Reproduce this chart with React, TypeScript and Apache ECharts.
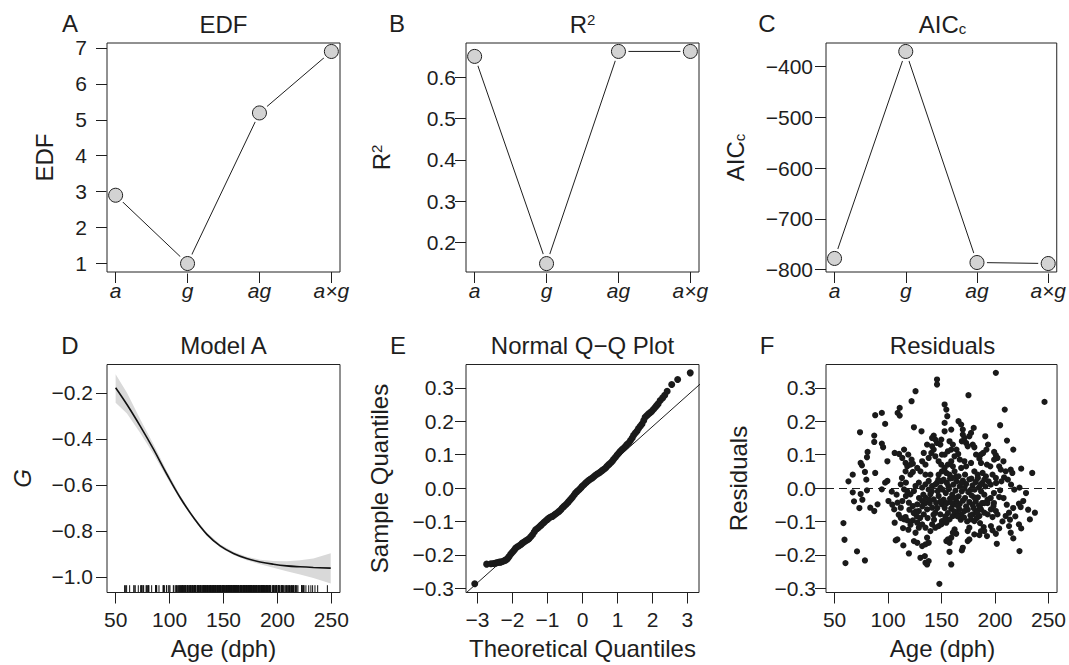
import React, { useEffect, useRef } from 'react';
import * as echarts from 'echarts';

// ---------- data ----------
const modelCats = ['a', 'g', 'ag', 'a×g'];
const catIdx = [0, 1, 2, 3];
const edfValues = [2.9, 1.0, 5.19, 6.9];
const r2Values = [0.65, 0.149, 0.662, 0.662];
const aiccValues = [-778, -370.5, -786, -788];

const edfTicks = [1, 2, 3, 4, 5, 6, 7];
const r2Ticks = [0.2, 0.3, 0.4, 0.5, 0.6];
const aiccTicks = [-800, -700, -600, -500, -400];
const gTicks = [-1.0, -0.8, -0.6, -0.4, -0.2];
const ageTicks = [50, 100, 150, 200, 250];
const theoTicks = [-3, -2, -1, 0, 1, 2, 3];
const residTicks = [-0.3, -0.2, -0.1, 0, 0.1, 0.2, 0.3];

// Model A smooth fit
const fitAges = [50, 60.5, 72.8, 85.2, 97.5, 109.9, 122.2, 134.6, 146.9, 159.3, 171.6, 184, 196.3, 208.6, 221, 233.3, 249.4];
const fitG = [-0.178, -0.251, -0.345, -0.446, -0.554, -0.656, -0.742, -0.815, -0.865, -0.898, -0.92, -0.935, -0.945, -0.952, -0.956, -0.959, -0.962];
const bandUpper = [-0.12, -0.2, -0.315, -0.425, -0.54, -0.646, -0.736, -0.808, -0.858, -0.891, -0.912, -0.925, -0.931, -0.932, -0.928, -0.92, -0.897];
const bandLower = [-0.243, -0.29, -0.375, -0.467, -0.568, -0.666, -0.75, -0.822, -0.872, -0.905, -0.928, -0.945, -0.96, -0.975, -0.99, -1.005, -1.029];

// Normal Q-Q plot
const qqTheo = [-3.08, -2.74, -2.62, -2.55, -2.48, -2.43, -2.38, -2.34, -2.29, -2.24, -2.2, -2.17, -2.13, -2.1, -2.05, -2.0, -1.95, -1.91, -1.86, -1.81, -1.76, -1.72, -1.67, -1.62, -1.57, -1.53, -1.48, -1.43, -1.38, -1.34, -1.29, -1.24, -1.19, -1.15, -1.1, -1.05, -1.0, -0.96, -0.91, -0.86, -0.81, -0.77, -0.72, -0.67, -0.62, -0.58, -0.53, -0.48, -0.43, -0.39, -0.34, -0.29, -0.24, -0.2, -0.15, -0.1, -0.05, -0.01, 0.04, 0.09, 0.13, 0.18, 0.23, 0.28, 0.32, 0.37, 0.42, 0.47, 0.51, 0.56, 0.61, 0.66, 0.7, 0.75, 0.8, 0.85, 0.89, 0.94, 0.99, 1.04, 1.08, 1.13, 1.18, 1.23, 1.27, 1.32, 1.37, 1.42, 1.46, 1.51, 1.56, 1.6, 1.65, 1.7, 1.75, 1.79, 1.84, 1.89, 1.94, 1.98, 2.03, 2.08, 2.12, 2.16, 2.22, 2.29, 2.35, 2.42, 2.55, 2.72, 3.08];
const qqSample = [-0.287, -0.228, -0.227, -0.226, -0.225, -0.223, -0.222, -0.222, -0.22, -0.218, -0.216, -0.214, -0.21, -0.205, -0.198, -0.192, -0.186, -0.18, -0.176, -0.173, -0.169, -0.165, -0.162, -0.158, -0.155, -0.152, -0.146, -0.14, -0.132, -0.125, -0.121, -0.117, -0.112, -0.108, -0.103, -0.098, -0.094, -0.09, -0.087, -0.085, -0.081, -0.078, -0.074, -0.07, -0.065, -0.06, -0.055, -0.05, -0.045, -0.04, -0.034, -0.028, -0.021, -0.015, -0.01, -0.005, 0.0, 0.005, 0.01, 0.015, 0.019, 0.023, 0.027, 0.03, 0.034, 0.038, 0.042, 0.045, 0.048, 0.052, 0.056, 0.06, 0.065, 0.07, 0.075, 0.08, 0.086, 0.092, 0.099, 0.105, 0.11, 0.115, 0.12, 0.125, 0.13, 0.135, 0.142, 0.15, 0.158, 0.165, 0.171, 0.178, 0.185, 0.192, 0.202, 0.212, 0.217, 0.222, 0.226, 0.23, 0.236, 0.242, 0.247, 0.252, 0.262, 0.27, 0.278, 0.29, 0.31, 0.325, 0.345];
const qqLineX = [-3.4, 3.4];
const qqLineY = [-0.321, 0.315];

// Residuals vs age [age, residual]
const residualPoints: [number, number][] = [
  [58.3, -0.105], [59.3, -0.155], [60.2, -0.225], [63, 0.02], [67, 0.04], [67, -0.013], [68.2, -0.04], [71, -0.19], [73.8, 0.167], [74.4, 0.075], [75.6, 0.068], [74.4, -0.018], [73.2, -0.06], [76, -0.035], [78.4, 0.048], [78.4, -0.217], [79.7, 0.025], [80.3, -0.007], [80.9, 0.108], [80.3, 0.092], [83.4, -0.059], [87.1, 0.157], [87.1, 0.138], [88, 0.045], [87.1, -0.069], [88, 0.218], [90.2, -0.049], [94.2, 0.225], [94.2, 0.133], [95.4, 0.122], [94.2, -0.004], [97.3, 0.016], [97.3, 0.192], [99.4, 0.08], [99.4, 0.021], [100.4, -0.039],
  [103.5, -0.011], [106.2, 0.105], [110.3, 0.102], [106.2, -0.104], [105.8, -0.064], [107.2, -0.157], [108.7, -0.154], [108.9, -0.044], [110.9, 0.24], [109, 0.225], [110.9, 0.217], [111.9, -0.059], [111.9, 0.011], [113.3, 0.09], [113.4, -0.039], [114.3, -0.172], [115, -0.004], [115, -0.094], [116.4, 0.075], [116.4, 0.05], [116.7, 0.016], [116.7, -0.024], [116.4, -0.087], [118, 0.065], [118, -0.097], [119.5, -0.196], [121, 0.04], [122, 0.26], [122, 0.085], [123.2, 0.073], [123.2, 0.048], [123.2, -0.097], [124.2, 0.182], [124.2, -0.159], [125.7, 0.29], [125.7, -0.134], [127.3, -0.104], [127.3, -0.164], [128.8, -0.119], [115, 0.115], [118.9, 0.1], [121, 0.07], [127.3, 0.06], [121, -0.019], [124.2, -0.009], [125.7, 0.006], [128.8, 0.016], [119.5, -0.044], [123.2, -0.054], [127.3, -0.049], [128.8, -0.069], [131.3, 0.17],
  [130.3, 0.05], [131.9, 0.001], [135, 0.011], [138, 0.021], [141.2, 0.006], [145.8, 0.016], [148.9, 0.001], [131.9, -0.039], [135, -0.029], [139.6, -0.019], [142.7, -0.034], [147.3, -0.024], [150.4, -0.049], [133.4, -0.079], [136.5, -0.064], [141.2, -0.059], [144.2, -0.074], [148.9, -0.079], [150.4, -0.099], [131.9, -0.109], [135, -0.119], [139.6, -0.129], [141.2, -0.109], [144.2, -0.119], [147.3, -0.114], [136.5, -0.149], [138, -0.164], [131.9, -0.174], [135, -0.169], [130.3, -0.209], [134.4, -0.204], [135, -0.224], [136.5, -0.229], [138, -0.219], [148, -0.287], [135, 0.07], [138, 0.09], [140.5, 0.105], [144.2, 0.095], [147.3, 0.08], [150.4, 0.1], [148.9, 0.13], [145.8, 0.135], [142.7, 0.115], [135, 0.04], [139.6, 0.04], [147.3, 0.04], [150.4, 0.05], [131.9, 0.08], [133.4, 0.105], [136.5, 0.13], [141.2, 0.125], [144.2, 0.145], [142.7, 0.157], [141.2, 0.15], [145.8, 0.325], [145.8, 0.31],
  [200.8, 0.345], [175.2, 0.278], [246.3, 0.258], [152.9, 0.25], [154.5, 0.235], [155.4, 0.215], [209.1, 0.235], [152.9, 0.195], [152.9, 0.17], [165.9, 0.2], [168.4, 0.19], [169.9, 0.175], [159.1, 0.175], [180.1, 0.18], [204.8, 0.188], [169.9, 0.16], [171.4, 0.15], [169, 0.14], [177.6, 0.165], [176, 0.155], [190.9, 0.155], [211.2, 0.142], [149.8, 0.145], [157.5, 0.14], [160.6, 0.13], [159.1, 0.115], [173, 0.135], [174.5, 0.125], [179.2, 0.13], [180.7, 0.122], [193.5, 0.13], [192, 0.115], [188.9, 0.105], [186.7, 0.1], [199.2, 0.108], [200.8, 0.098], [202.3, 0.09], [199.2, 0.085], [217.1, 0.115], [164, 0.115], [165.6, 0.102], [162.2, 0.095], [156, 0.11], [152.9, 0.1], [167.1, 0.085], [171.4, 0.08], [177.6, 0.075], [173, 0.065], [168.4, 0.06], [182.3, 0.1], [185.4, 0.088], [186.9, 0.075], [192.5, 0.07], [195.6, 0.065], [207.9, 0.08], [203.9, 0.065], [205.4, 0.055], [210, 0.05], [214.7, 0.055], [216.2, 0.045], [224.5, 0.058], [234.8, 0.045], [149.8, 0.07], [152.9, 0.06], [156, 0.07], [159.1, 0.08], [160.6, 0.065], [154.5, 0.045], [157.5, 0.04], [162.2, 0.05], [163.7, 0.035], [180.7, 0.05], [183.8, 0.04], [188.4, 0.045], [191.5, 0.035], [197.7, 0.04], [200.8, 0.03], [208.5, 0.032],
  [222.9, 0.001], [204.8, -0.007], [203.9, -0.027], [226.4, -0.039], [222.4, -0.047], [224, -0.057], [237.3, -0.074], [232.6, -0.094], [213.1, -0.074], [210, -0.084], [222.4, -0.109], [224.5, -0.121], [213.1, -0.114], [203.9, -0.121], [196.2, -0.114], [197.7, -0.127], [189.4, -0.117], [190, -0.129], [200.8, -0.137], [214.7, -0.134], [217.1, -0.151], [201.7, -0.167], [222.9, -0.189], [192.5, -0.144], [185.4, -0.141], [186.9, -0.129], [180.7, -0.139], [176, -0.119], [174.5, -0.129], [176, -0.154], [174.5, -0.159], [162.2, -0.124], [163.7, -0.137], [160.6, -0.134], [156, -0.154], [154.5, -0.159], [157.5, -0.164], [159.1, -0.149], [169.9, -0.179], [169, -0.187], [157.5, -0.191], [159.1, -0.229],
  [196.2, -0.064], [198.6, -0.054], [200.8, -0.069], [202.3, -0.079], [197.7, -0.087], [193.1, -0.079], [186.9, -0.064], [190, -0.074], [185.4, -0.084], [182.3, -0.069], [179.2, -0.079], [177.6, -0.094], [180.7, -0.099], [168.4, -0.079], [171.4, -0.069], [166.8, -0.064], [163.7, -0.074], [160.6, -0.084], [157.5, -0.094], [154.5, -0.104], [152.9, -0.097], [149.8, -0.109],
  [152, 0.025], [155, 0.015], [158, 0.028], [161, 0.01], [164, 0.02], [167, 0.005], [170, 0.022], [173, 0.012], [176, 0.026], [179, 0.008], [182, 0.018], [185, 0.002], [188, 0.015], [191, 0.005], [194, 0.02],
  [151, -0.005], [154, -0.015], [157, -0.003], [160, -0.02], [163, -0.008], [166, -0.025], [169, -0.01], [172, -0.03], [175, -0.012], [178, -0.022], [181, -0.005], [184, -0.028], [187, -0.01], [190, -0.02], [193, -0.035],
  [152, -0.035], [155, -0.045], [158, -0.032], [161, -0.05], [164, -0.04], [167, -0.048], [170, -0.038], [173, -0.055], [176, -0.042], [179, -0.05], [182, -0.04], [185, -0.052], [188, -0.045],
  [153, -0.06], [156, -0.075], [159, -0.062], [162, -0.07], [165, -0.085], [168, -0.095], [171, -0.088], [174, -0.1], [177, -0.082], [180, -0.06], [183, -0.09], [186, -0.105],
  [160, 0.03], [166, 0.035], [172, 0.04], [178, 0.028], [184, 0.03], [190, 0.025],
  [150, 0.02], [147, 0.025], [144, 0.01], [141, -0.01], [138, -0.005], [135, -0.045], [132, -0.055], [129, -0.03], [126, -0.07], [130, -0.09], [137, -0.09], [143, -0.095], [146, -0.06], [149, -0.04], [145, -0.045], [139, -0.045], [133, -0.02], [127, -0.085], [124, -0.075], [120, -0.065], [118, -0.01], [113, 0.03], [108, -0.02], [104, -0.05], [110, -0.08], [114, -0.12], [119, -0.125], [121, -0.11], [112, -0.09],
  [196, 0.01], [199, -0.015], [193, -0.045], [196, -0.03], [199, -0.045], [186, -0.06], [190, -0.045], [201, 0.015], [206, 0.02], [212, 0.025], [215, 0.01], [218, -0.005], [208, -0.03], [211, -0.05], [217, -0.06], [219, -0.085], [207, -0.1], [214, -0.095], [229, -0.015], [231, -0.065],
  [156.5, 0.005], [162.5, -0.03], [168.5, 0.015], [174.5, -0.065], [180.5, -0.028], [186.5, 0.01], [165.5, -0.055], [171.5, 0.0], [177.5, -0.005], [183.5, -0.075], [153.5, -0.085], [159.5, -0.045], [146.5, -0.01], [142.5, -0.08], [138.5, -0.035],
];

// ---------- style helpers ----------
const FONT = "'Liberation Sans', Arial, Helvetica, sans-serif";
const INK = '#1e1e1e';
const TICK_FS = 21;
const TITLE_FS = 24;

const minus = (s: string) => s.replace('-', '\u2212');
const fmt1 = (v: number) => minus(v.toFixed(1));
const fmt0 = (v: number) => minus(String(Math.round(v)));
const catFmt = (v: number) => modelCats[Math.round(v)] ?? '';

const boxes = [
  { left: 107, top: 43, width: 233, height: 229 },
  { left: 466, top: 43, width: 233, height: 229 },
  { left: 826, top: 43, width: 233, height: 229 },
  { left: 107, top: 364.5, width: 233, height: 228 },
  { left: 466, top: 364.5, width: 233, height: 228 },
  { left: 826, top: 364.5, width: 233, height: 228 },
];

function axis(gi: number, min: number, max: number, ticks: number[], fmt: (v: number) => string, margin: number, italic = false) {
  return {
    type: 'value',
    gridIndex: gi,
    min,
    max,
    axisLine: { show: false, onZero: false },
    splitLine: { show: false },
    axisTick: { show: true, inside: false, length: 11, customValues: ticks, lineStyle: { color: INK, width: 1 } },
    axisLabel: {
      customValues: ticks,
      formatter: fmt,
      margin,
      color: INK,
      fontSize: TICK_FS,
      fontFamily: FONT,
      fontStyle: italic ? 'italic' : 'normal',
      showMinLabel: true,
      showMaxLabel: true,
    },
  };
}

function modelSeries(gi: number, values: number[]) {
  const data = catIdx.map((i) => [i, values[i]]);
  return [
    { type: 'line', xAxisIndex: gi, yAxisIndex: gi, data, showSymbol: false, symbol: 'none', lineStyle: { color: INK, width: 1 }, z: 2 },
    { type: 'scatter', xAxisIndex: gi, yAxisIndex: gi, data, symbolSize: 20, itemStyle: { color: '#ffffff', opacity: 1 }, z: 3, silent: true },
    { type: 'scatter', xAxisIndex: gi, yAxisIndex: gi, data, symbolSize: 14, itemStyle: { color: '#d3d3d3', borderColor: INK, borderWidth: 1, opacity: 1 }, z: 4 },
  ];
}

const G_MIN = -1.0677;
const RUG_TOP = -1.036;

function text(x: number, y: number, t: string, fs: number, extra: any = {}) {
  return {
    type: 'text',
    x,
    y,
    rotation: extra.rotation || 0,
    silent: true,
    style: {
      text: t,
      fontSize: fs,
      fontFamily: FONT,
      fontStyle: extra.italic ? 'italic' : 'normal',
      fill: INK,
      align: 'center',
      verticalAlign: 'middle',
      rich: extra.rich,
    },
  };
}

const supRich = {
  sup: { fontSize: 15, fontFamily: FONT, fill: INK, verticalAlign: 'top', padding: [0, 0, 10, 0] },
  sub: { fontSize: 15, fontFamily: FONT, fill: INK, verticalAlign: 'bottom', padding: [8, 0, 0, 0] },
};

const option: any = {
  animation: false,
  backgroundColor: '#ffffff',
  grid: boxes.map((b) => ({ ...b, show: true, borderColor: '#222', borderWidth: 1, backgroundColor: 'transparent', z: 6 })),
  xAxis: [
    axis(0, -0.12, 3.12, catIdx, catFmt, 8, true),
    axis(1, -0.12, 3.12, catIdx, catFmt, 8, true),
    axis(2, -0.12, 3.12, catIdx, catFmt, 8, true),
    axis(3, 42, 258, ageTicks, fmt0, 16),
    axis(4, -3.33, 3.33, theoTicks, fmt0, 16),
    axis(5, 42, 258, ageTicks, fmt0, 16),
  ],
  yAxis: [
    axis(0, 0.764, 7.136, edfTicks, fmt0, 20),
    axis(1, 0.1287, 0.6824, r2Ticks, fmt1, 10),
    axis(2, -804.7, -353.8, aiccTicks, fmt0, 13),
    axis(3, G_MIN, -0.0772, gTicks, fmt1, 14),
    axis(4, -0.313, 0.37, residTicks, fmt1, 12),
    axis(5, -0.313, 0.37, residTicks, fmt1, 10),
  ],
  series: [
    ...modelSeries(0, edfValues),
    ...modelSeries(1, r2Values),
    ...modelSeries(2, aiccValues),
    {
      type: 'custom',
      xAxisIndex: 3,
      yAxisIndex: 3,
      data: [[fitAges[0], bandUpper[0]]],
      z: 1,
      silent: true,
      renderItem: (_p: any, api: any) => {
        const up = fitAges.map((a, i) => api.coord([a, bandUpper[i]]));
        const lo = fitAges.map((a, i) => api.coord([a, bandLower[i]])).reverse();
        return { type: 'polygon', shape: { points: up.concat(lo) }, style: { fill: '#d9d9d9', stroke: 'none' } };
      },
    },
    {
      type: 'line',
      xAxisIndex: 3,
      yAxisIndex: 3,
      data: fitAges.map((a, i) => [a, fitG[i]]),
      smooth: 0.4,
      showSymbol: false,
      symbol: 'none',
      lineStyle: { color: '#111', width: 1.6 },
      z: 3,
    },
    {
      type: 'custom',
      xAxisIndex: 3,
      yAxisIndex: 3,
      data: residualPoints.map((p) => [p[0], G_MIN]),
      z: 3,
      silent: true,
      renderItem: (_p: any, api: any) => {
        const a = api.value(0);
        const p0 = api.coord([a, G_MIN]);
        const p1 = api.coord([a, RUG_TOP]);
        return { type: 'line', shape: { x1: p0[0], y1: p0[1], x2: p1[0], y2: p1[1] }, style: { stroke: '#111', lineWidth: 1 } };
      },
    },
    {
      type: 'line',
      xAxisIndex: 4,
      yAxisIndex: 4,
      data: qqLineX.map((x, i) => [x, qqLineY[i]]),
      showSymbol: false,
      symbol: 'none',
      clip: true,
      lineStyle: { color: INK, width: 1 },
      z: 2,
    },
    {
      type: 'scatter',
      xAxisIndex: 4,
      yAxisIndex: 4,
      data: qqTheo.map((x, i) => [x, qqSample[i]]),
      symbolSize: 7,
      itemStyle: { color: '#1a1a1a', opacity: 1 },
      z: 3,
    },
    {
      type: 'scatter',
      xAxisIndex: 5,
      yAxisIndex: 5,
      data: residualPoints,
      symbolSize: 6.2,
      itemStyle: { color: '#1a1a1a', opacity: 1 },
      z: 3,
      markLine: {
        silent: true,
        symbol: ['none', 'none'],
        label: { show: false },
        lineStyle: { type: [8, 5], color: INK, width: 1 },
        data: [{ yAxis: 0 }],
      },
    },
  ],
  graphic: [
    text(70, 23, 'A', TITLE_FS),
    text(397, 23, 'B', TITLE_FS),
    text(767, 23, 'C', TITLE_FS),
    text(70, 345, 'D', TITLE_FS),
    text(398, 345, 'E', TITLE_FS),
    text(767, 345, 'F', TITLE_FS),
    text(223.5, 24, 'EDF', TITLE_FS),
    text(582.5, 24, 'R{sup|2}', TITLE_FS, { rich: supRich }),
    text(942.5, 24, 'AIC{sub|c}', TITLE_FS, { rich: supRich }),
    text(223.5, 345, 'Model A', TITLE_FS),
    text(582.5, 345, 'Normal Q\u2212Q Plot', TITLE_FS),
    text(942.5, 345, 'Residuals', TITLE_FS),
    text(44, 157.5, 'EDF', TITLE_FS, { rotation: Math.PI / 2 }),
    text(381, 157.5, 'R{sup|2}', TITLE_FS, { rotation: Math.PI / 2, rich: supRich }),
    text(735, 157.5, 'AIC{sub|c}', TITLE_FS, { rotation: Math.PI / 2, rich: supRich }),
    text(22, 478.5, 'G', TITLE_FS, { rotation: Math.PI / 2, italic: true }),
    text(379, 478.5, 'Sample Quantiles', TITLE_FS, { rotation: Math.PI / 2 }),
    text(738, 478.5, 'Residuals', TITLE_FS, { rotation: Math.PI / 2 }),
    text(223.5, 648, 'Age (dph)', TITLE_FS),
    text(582.5, 648, 'Theoretical Quantiles', TITLE_FS),
    text(942.5, 648, 'Age (dph)', TITLE_FS),
  ],
};

export default function App() {
  const ref = useRef<HTMLDivElement>(null);
  useEffect(() => {
    if (!ref.current) return;
    const chart = echarts.init(ref.current, null, { renderer: 'svg' });
    chart.setOption(option);
    return () => chart.dispose();
  }, []);
  return (
    <div
      ref={ref}
      style={{ position: 'fixed', left: 0, top: 0, width: 1069, height: 665, background: '#fff' }}
    />
  );
}
